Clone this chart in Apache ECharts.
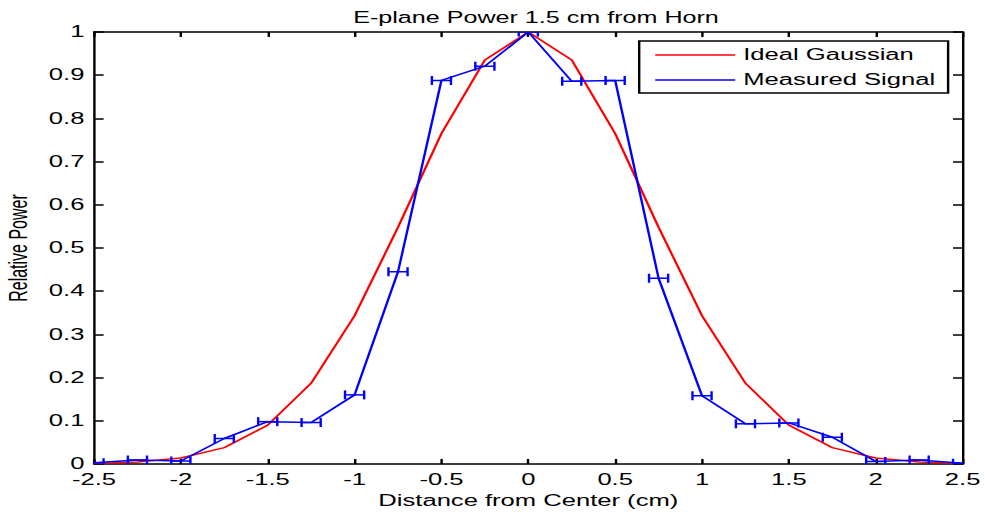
<!DOCTYPE html>
<html>
<head>
<meta charset="utf-8">
<script src="https://cdn.jsdelivr.net/npm/echarts@6/dist/echarts.min.js"></script>
<style>
html, body { margin: 0; padding: 0; background: #fff; overflow: hidden; width: 985px; height: 516px; }
#chart { width: 615.625px; height: 516px; transform: scaleX(1.6); transform-origin: 0 0; }
</style>
</head>
<body>
<div id="chart"></div>
<script>
// ---- data ----
const chartTitle = 'E-plane Power 1.5 cm from Horn';
const xAxisName = 'Distance from Center (cm)';
const yAxisName = 'Relative Power';
const seriesNames = ['Ideal Gaussian', 'Measured Signal'];

const xValues = [-2.5, -2.25, -2.0, -1.75, -1.5, -1.25, -1.0, -0.75, -0.5, -0.25, 0,
                 0.25, 0.5, 0.75, 1.0, 1.25, 1.5, 1.75, 2.0, 2.25, 2.5];
const idealGaussian = [0.0012, 0.0045, 0.014, 0.038, 0.09, 0.187, 0.343, 0.548, 0.765, 0.935, 1.0,
                       0.935, 0.765, 0.548, 0.343, 0.187, 0.09, 0.038, 0.014, 0.0045, 0.0012];
const measuredSignal = [0.003, 0.009, 0.007, 0.059, 0.098, 0.096, 0.160, 0.445, 0.888, 0.921, 1.0,
                        0.886, 0.888, 0.430, 0.158, 0.093, 0.095, 0.062, 0.006, 0.009, 0.002];
const xError = [0.055, 0.055, 0.055, 0.055, 0.055, 0.055, 0.055, 0.055, 0.055, 0.055, 0.055,
                0.055, 0.055, 0.055, 0.055, 0.055, 0.055, 0.055, 0.055, 0.055, 0.055];

const xTickLabels = ['-2.5', '-2', '-1.5', '-1', '-0.5', '0', '0.5', '1', '1.5', '2', '2.5'];
const yTickLabels = ['0', '0.1', '0.2', '0.3', '0.4', '0.5', '0.6', '0.7', '0.8', '0.9', '1'];
const xMin = -2.5, xMax = 2.5, xStep = 0.5;
const yMin = 0, yMax = 1, yStep = 0.1;

// ---- chart ----
const FONT = 'Liberation Sans, Arial, Helvetica, sans-serif';
const chart = echarts.init(document.getElementById('chart'), null, { renderer: 'svg' });

const gaussPairs = xValues.map((x, i) => [x, idealGaussian[i]]);
const measPairs = xValues.map((x, i) => [x, measuredSignal[i]]);
const errTriples = xValues.map((x, i) => [x, measuredSignal[i], xError[i]]);

const axisLine = { show: true, onZero: false, lineStyle: { color: '#000', width: 1.5 } };
const tickStyle = { color: '#000', width: 1.5 };
const labelStyle = { color: '#000', fontSize: 16, fontFamily: FONT };

const xFmt = v => xTickLabels[Math.round((v - xMin) / xStep)] ?? '';
const yFmt = v => yTickLabels[Math.round((v - yMin) / yStep)] ?? '';

chart.setOption({
  backgroundColor: '#fff',
  animation: false,
  title: {
    text: chartTitle,
    left: 330, top: 4, textAlign: 'center',
    textStyle: { color: '#000', fontSize: 15.7, fontWeight: 'normal', fontFamily: FONT }
  },
  grid: { left: 58.75, right: 14.375, top: 32, bottom: 52, containLabel: false, outerBoundsMode: 'none' },
  legend: {
    data: seriesNames,
    orient: 'vertical',
    left: 399.5, top: 41,
    padding: [6, 8, 5, 10],
    itemWidth: 50, itemHeight: 1.5, itemGap: 9,
    icon: 'rect',
    borderColor: '#000', borderWidth: 1.5,
    backgroundColor: '#fff',
    textStyle: { color: '#000', fontSize: 16, fontFamily: FONT }
  },
  xAxis: [{
    type: 'value', min: xMin, max: xMax, interval: xStep, position: 'bottom',
    name: xAxisName, nameLocation: 'middle', nameGap: 25,
    nameTextStyle: { color: '#000', fontSize: 16, fontFamily: FONT },
    axisLine, axisTick: { show: true, inside: true, length: 5, lineStyle: tickStyle },
    axisLabel: Object.assign({ margin: 8, formatter: xFmt }, labelStyle),
    splitLine: { show: false }
  }, {
    type: 'value', min: xMin, max: xMax, interval: xStep, position: 'top',
    axisLine, axisTick: { show: true, inside: true, length: 5, lineStyle: tickStyle },
    axisLabel: { show: false }, splitLine: { show: false }
  }],
  yAxis: [{
    type: 'value', min: yMin, max: yMax, interval: yStep, position: 'left',
    name: yAxisName, nameLocation: 'middle', nameGap: 39, nameRotate: 90,
    nameTextStyle: { color: '#000', fontSize: 16, fontFamily: FONT },
    axisLine, axisTick: { show: true, inside: true, length: 6, lineStyle: tickStyle },
    axisLabel: Object.assign({ margin: 6, formatter: yFmt }, labelStyle),
    splitLine: { show: false }
  }, {
    type: 'value', min: yMin, max: yMax, interval: yStep, position: 'right',
    axisLine, axisTick: { show: true, inside: true, length: 6, lineStyle: tickStyle },
    axisLabel: { show: false }, splitLine: { show: false }
  }],
  series: [{
    name: seriesNames[0], type: 'line', data: gaussPairs,
    symbol: 'none', color: '#ff0000',
    lineStyle: { color: '#ff0000', width: 1.5 }, z: 2
  }, {
    name: seriesNames[1], type: 'line', data: measPairs,
    symbol: 'none', color: '#0000ff',
    lineStyle: { color: '#0000ff', width: 1.5 }, z: 3
  }, {
    name: 'errors', type: 'custom', data: errTriples, clip: true, z: 3,
    renderItem: (params, api) => {
      const x = api.value(0), y = api.value(1), e = api.value(2);
      const a = api.coord([x - e, y]);
      const b = api.coord([x + e, y]);
      const h = 4.5;
      const st = { stroke: '#0000ff', lineWidth: 1.5 };
      return {
        type: 'group',
        children: [
          { type: 'line', shape: { x1: a[0], y1: a[1], x2: b[0], y2: b[1] }, style: st },
          { type: 'line', shape: { x1: a[0], y1: a[1] - h, x2: a[0], y2: a[1] + h }, style: st },
          { type: 'line', shape: { x1: b[0], y1: b[1] - h, x2: b[0], y2: b[1] + h }, style: st }
        ]
      };
    }
  }]
});
</script>
</body>
</html>
